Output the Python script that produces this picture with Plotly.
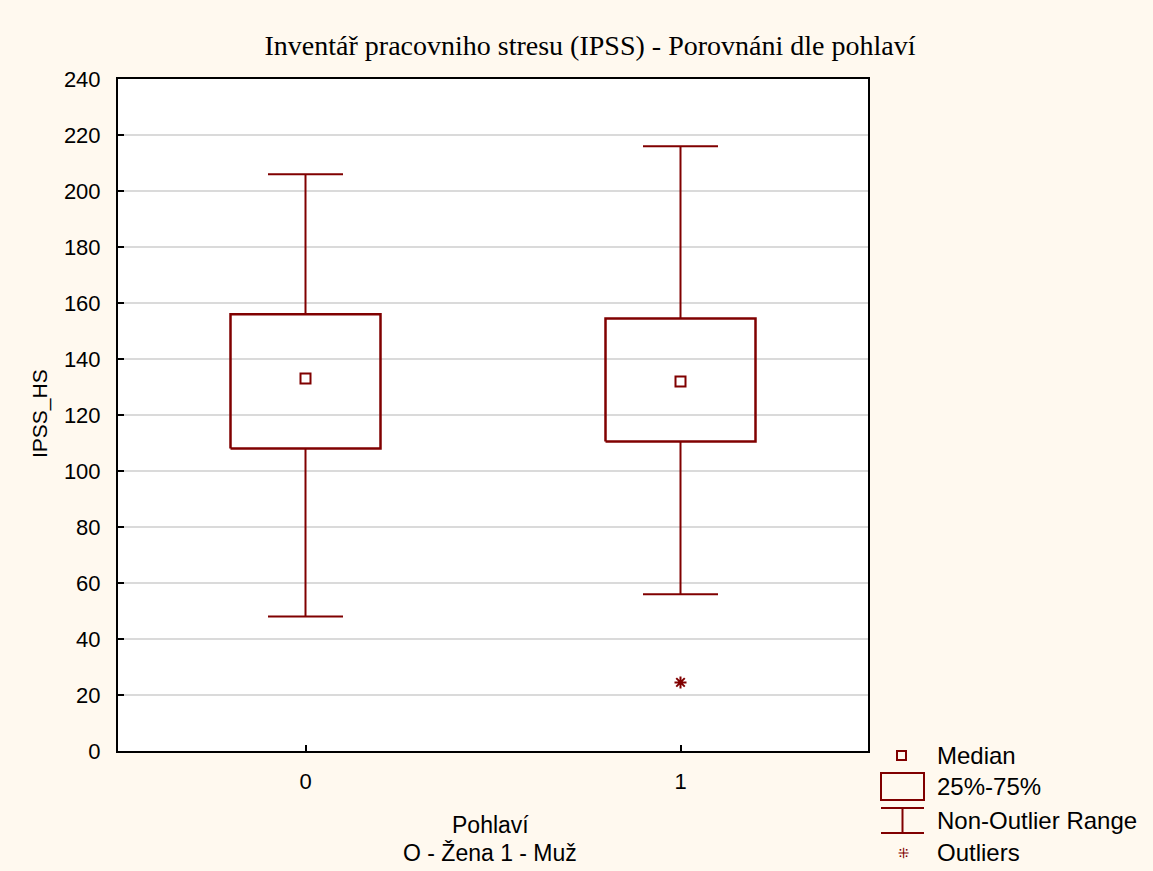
import plotly.graph_objects as go

# values (IPSS_HS by sex)
groups = [0, 1]
group_labels = ["0", "1"]
q1 = [108, 110.5]
q3 = [156, 154.5]
median = [133, 132]
whisk_low = [48, 56]
whisk_high = [206, 216]
outlier_x = [1]
outlier_y = [24.5]

DARK_RED = "#800000"
BG = "#FFF9EF"
BOX_HALF = 0.2
CAP_HALF = 0.1
W, H = 1153, 871
L, R, T, B = 118, 285, 79, 120

fig = go.Figure()

# boxes (25%-75%)
bx, by = [], []
for g, lo, hi in zip(groups, q1, q3):
    bx += [g - BOX_HALF, g + BOX_HALF, g + BOX_HALF, g - BOX_HALF, g - BOX_HALF, None]
    by += [lo, lo, hi, hi, lo, None]
fig.add_trace(go.Scatter(x=bx, y=by, mode="lines",
                         line=dict(color=DARK_RED, width=2.5), hoverinfo="skip"))

# whiskers + caps (non-outlier range)
wx, wy = [], []
for g, lo, hi, wl, wh in zip(groups, q1, q3, whisk_low, whisk_high):
    wx += [g, g, None, g - CAP_HALF, g + CAP_HALF, None]
    wy += [hi, wh, None, wh, wh, None]
    wx += [g, g, None, g - CAP_HALF, g + CAP_HALF, None]
    wy += [lo, wl, None, wl, wl, None]
fig.add_trace(go.Scatter(x=wx, y=wy, mode="lines",
                         line=dict(color=DARK_RED, width=2), hoverinfo="skip"))

# medians
fig.add_trace(go.Scatter(x=groups, y=median, mode="markers",
                         marker=dict(symbol="square-open", size=10,
                                     color=DARK_RED, line=dict(width=2))))

# outliers
fig.add_trace(go.Scatter(x=outlier_x, y=outlier_y, mode="markers",
                         marker=dict(symbol="asterisk-open", size=10,
                                     color=DARK_RED, line=dict(width=2, color=DARK_RED))))

fig.update_layout(
    width=W, height=H,
    paper_bgcolor=BG, plot_bgcolor="white",
    margin=dict(l=L, r=R, t=T, b=B),
    showlegend=False,
    font=dict(family="Liberation Sans, Arial", size=22, color="black"),
    title=dict(text="Inventář pracovniho stresu (IPSS) - Porovnáni dle pohlaví",
               x=590 / W, xanchor="center", y=1 - 45 / H, yanchor="middle",
               font=dict(family="Liberation Serif, Times New Roman", size=28)),
)

fig.update_xaxes(
    range=[-0.5, 1.5], tickvals=groups, ticktext=group_labels,
    showgrid=False, zeroline=False,
    showline=True, linecolor="black", linewidth=2, mirror=True,
    ticks="inside", ticklen=6, tickcolor="black", tickwidth=2,
    tickfont=dict(size=22), ticklabelstandoff=10,
)
fig.update_yaxes(
    range=[0, 240], dtick=20,
    showgrid=True, gridcolor="#DADADA", gridwidth=1.5, zeroline=False,
    showline=True, linecolor="black", linewidth=2, mirror=True,
    ticks="inside", ticklen=6, tickcolor="black", tickwidth=1.5,
    tickfont=dict(size=22), ticklabelstandoff=11,
)


# pixel -> paper fraction helpers for the annotations and custom legend
def px_x(v):
    return (v - L) / (W - L - R)


def px_y(v):
    return 1 - (v - T) / (H - T - B)


# axis titles
fig.add_annotation(text="IPSS_HS", xref="paper", yref="paper", x=px_x(40), y=px_y(414),
                   textangle=-90, showarrow=False, xanchor="center", yanchor="middle",
                   font=dict(size=21))
fig.add_annotation(text="Pohlaví", xref="paper", yref="paper", x=px_x(490), y=px_y(825),
                   showarrow=False, xanchor="center", yanchor="middle", font=dict(size=23))
fig.add_annotation(text="O - Žena 1 - Muž", xref="paper", yref="paper", x=px_x(490), y=px_y(853),
                   showarrow=False, xanchor="center", yanchor="middle", font=dict(size=23))

# custom legend
leg = dict(xref="paper", yref="paper", line=dict(color=DARK_RED, width=2))
fig.add_shape(type="rect", x0=px_x(897), x1=px_x(906), y0=px_y(760), y1=px_y(751), **leg)
fig.add_shape(type="rect", x0=px_x(881), x1=px_x(924), y0=px_y(800), y1=px_y(773), **leg)
fig.add_shape(type="line", x0=px_x(881), x1=px_x(924), y0=px_y(808), y1=px_y(808), **leg)
fig.add_shape(type="line", x0=px_x(881), x1=px_x(924), y0=px_y(833), y1=px_y(833), **leg)
fig.add_shape(type="line", x0=px_x(902.5), x1=px_x(902.5), y0=px_y(808), y1=px_y(833), **leg)

legend_items = ["Median", "25%-75%", "Non-Outlier Range", "Outliers"]
legend_y = [755, 786, 820, 853]
for txt, yy in zip(legend_items, legend_y):
    fig.add_annotation(text=txt, xref="paper", yref="paper", x=px_x(935), y=px_y(yy),
                       xanchor="left", yanchor="middle", showarrow=False,
                       font=dict(size=24))
fig.add_annotation(text="⁜", xref="paper", yref="paper", x=px_x(903), y=px_y(853),
                   xanchor="center", yanchor="middle", showarrow=False,
                   font=dict(size=14, color=DARK_RED))

fig.write_html("out.html", config={"displayModeBar": False},
               post_script="document.body.style.margin='0px';")
